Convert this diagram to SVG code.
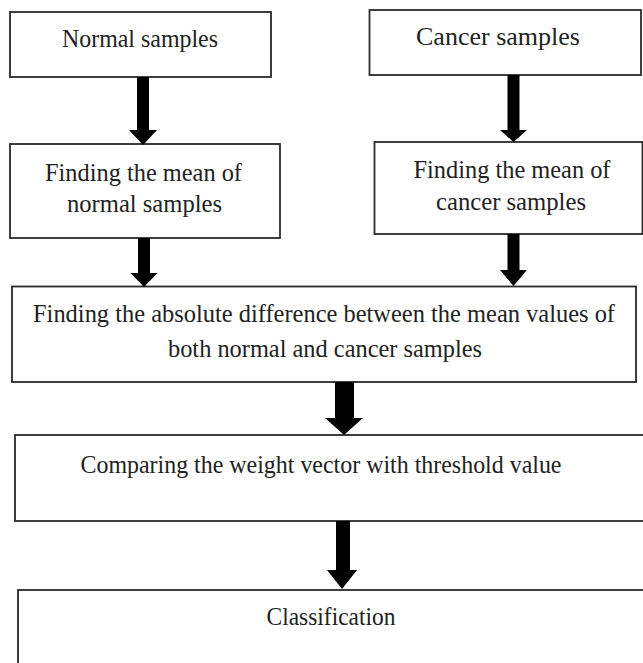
<svg xmlns="http://www.w3.org/2000/svg" width="643" height="663" viewBox="0 0 643 663">
<style>
.box{fill:#fff;stroke:#2a2a2a;stroke-width:1.8}
.t{font-family:"Liberation Serif","DejaVu Serif",serif;font-size:25px;fill:#222;text-anchor:middle}
.arr{fill:#000}
</style>
<rect width="643" height="663" fill="#fff"/>
<g id="node-normal">
<rect class="box" x="10" y="12" width="261" height="65"/>
<text class="t" x="140" y="47" textLength="156" lengthAdjust="spacingAndGlyphs">Normal samples</text>
</g>
<g id="node-cancer">
<rect class="box" x="369.5" y="10" width="271.5" height="65"/>
<text class="t" x="498" y="45" textLength="164" lengthAdjust="spacingAndGlyphs">Cancer samples</text>
</g>
<g id="node-mean-normal">
<rect class="box" x="10" y="144" width="270" height="94"/>
<text class="t" x="143.5" y="181" textLength="197" lengthAdjust="spacingAndGlyphs">Finding the mean of</text>
<text class="t" x="144.5" y="212" textLength="155" lengthAdjust="spacingAndGlyphs">normal samples</text>
</g>
<g id="node-mean-cancer">
<rect class="box" x="374.5" y="142" width="268" height="92"/>
<text class="t" x="512" y="178" textLength="197" lengthAdjust="spacingAndGlyphs">Finding the mean of</text>
<text class="t" x="511" y="210" textLength="150" lengthAdjust="spacingAndGlyphs">cancer samples</text>
</g>
<g id="node-difference">
<rect class="box" x="12" y="286.5" width="624" height="95.5"/>
<text class="t" x="324" y="322" textLength="582" lengthAdjust="spacingAndGlyphs">Finding the absolute difference between the mean values of</text>
<text class="t" x="325" y="357" textLength="314" lengthAdjust="spacingAndGlyphs">both normal and cancer samples</text>
</g>
<g id="node-compare">
<rect class="box" x="15" y="435" width="630" height="86"/>
<text class="t" x="321" y="473" textLength="481" lengthAdjust="spacingAndGlyphs">Comparing the weight vector with threshold value</text>
</g>
<g id="node-classification">
<rect class="box" x="18" y="590" width="630" height="80"/>
<text class="t" x="331" y="625" textLength="129" lengthAdjust="spacingAndGlyphs">Classification</text>
</g>
<g id="connectors">
<path class="arr" d="M137,77 H149 V130 H157 L143,145 L129,130 H137 Z"/>
<path class="arr" d="M507.5,75 H519.5 V130 H527 L513.5,142 L500,130 H507.5 Z"/>
<path class="arr" d="M138,238 H150 V273 H157.5 L144,287 L130.5,273 H138 Z"/>
<path class="arr" d="M507.5,234 H519.5 V270 H527 L513.5,286 L500,270 H507.5 Z"/>
<path class="arr" d="M335,382 H354 V418 H363 L344,435 L325,418 H335 Z"/>
<path class="arr" d="M336,521 H350 V570 H357 L342,589 L327,570 H336 Z"/>
</g>
</svg>
